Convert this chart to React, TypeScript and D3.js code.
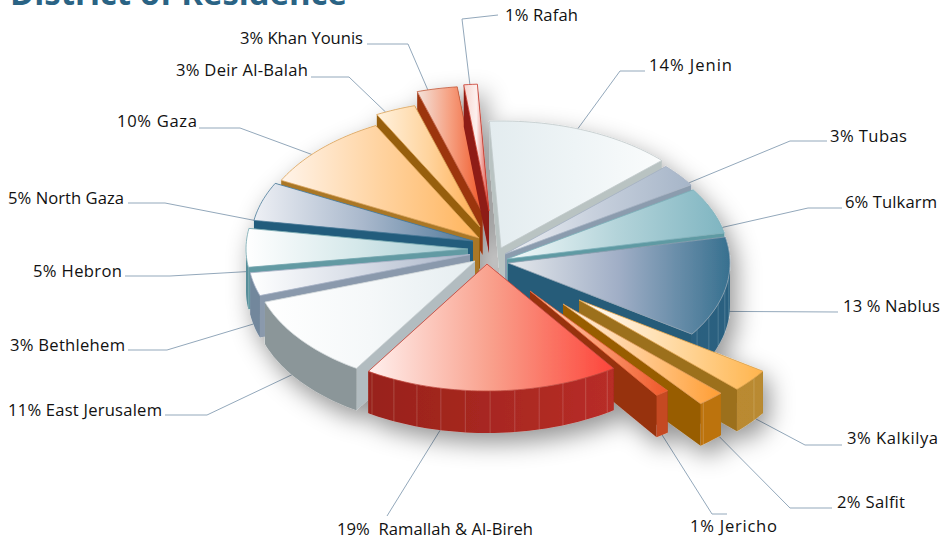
import React from "react";
import * as d3 from "d3";

const districts = ["Jenin","Tubas","Tulkarm","Nablus","Kalkilya","Salfit","Jericho","Ramallah & Al-Bireh","East Jerusalem","Bethlehem","Hebron","North Gaza","Gaza","Deir Al-Balah","Khan Younis","Rafah"];
const shares = [14,3,6,13,3,2,1,19,11,3,5,5,10,3,3,1];
const labelTexts = ["14% Jenin","3% Tubas","6% Tulkarm","13 % Nablus","3% Kalkilya","2% Salfit","1% Jericho","19%  Ramallah & Al-Bireh","11% East Jerusalem","3% Bethlehem","5% Hebron","5% North Gaza","10% Gaza","3% Deir Al-Balah","3% Khan Younis","1% Rafah"];

// explosion of each wedge relative to the pie centre
const explodeX = [16,20,22,23,94,78,45,2,-10,-15,-17,-12,-6,-5,-2.5,4];
const explodeY = [-2,4,9,13,50,54,41,14,11,4.5,-1,-9,-12,-23,-37,-39];

const surfaceStops = [
  ["#e3ecef","#eef4f6","#fafcfc"],["#eceff3","#c6cfdc","#a6b5c8"],["#f3fafa","#b4d4da","#7fb5c1"],["#e6e9ec","#a0aec6","#37708f"],
  ["#ffffff","#ffdba6","#ffb44c"],["#fff4e6","#ffc98e","#ff9d33"],["#ffd9c6","#fb9a70","#ef5628"],["#fff0ee","#f9a08c","#fd453a"],
  ["#ffffff","#f5f8f9","#e5edf0"],["#ffffff","#d6dce6","#a9b4c8"],["#ffffff","#d5e8ea","#a0c8d0"],["#eef0f5","#a9b8cc","#50799a"],
  ["#fff4ea","#ffd3a0","#ffb45c"],["#fff2de","#ffd49e","#ffab4e"],["#f3e3dc","#f6a081","#f0592a"],["#f6d5cf","#fdf0ee","#e0493c"],
];
const sideColors = ["#b9c3c2","#8b9cae","#5f9aa3","#265b79","#9c6f1e","#985d00","#97300d","#a2281d","#b2bcc0","#8a99ac","#629aa3","#235c7c","#aa7726","#975e08","#9c3510","#8e1c14"];
const outerLeft = ["#8d979a","#7a8ea3","#5c8f99","#25587a","#c0872f","#bc7310","#c54a20","#98221a","#8b9699","#72879c","#568d99","#235c7c","#aa7726","#975e08","#9c3510","#8e1c14"];
const outerRight = ["#8d979a","#7a8ea3","#5c8f99","#2a6180","#b98a30","#bc7310","#c54a20","#b82d27","#8b9699","#72879c","#568d99","#235c7c","#aa7726","#975e08","#9c3510","#8e1c14"];
const edgeColors = ["#c0c9ca","#a8b4c4","#7fb0ba","#8fa3b3","#e3a957","#e0a060","#e86a40","#c24a40","#cfd6d8","#a9b4c8","#74a6ae","#4a7a98","#d8a055","#d8a055","#c0583a","#c83a2c"];
const seamed = ["Nablus","Kalkilya","Salfit","Ramallah & Al-Bireh"];

const labelX = [649,830,845,843,847,837,690,337,162,125,122,124,197,308,363,505];
const labelY = [71,142,208,312,444,508,532,535,416,351,277,204,127,76,44,21];
const labelWidth = [83,77,92,97,91,68,87,196,154,115,89,116,80,132,123,73];
const labelAnchor = ["start","start","start","start","start","start","start","start","end","end","end","end","end","end","end","start"];
const leaderStartX = [645,827,842,838,842,832,727,387,165,128,125,128,199,311,367,498];
const leaderStartY = [71,141,208,312,445,508,514,516,415,350,276,203,128,77,44,15];
const leaderElbowX = [620,790,808,838,805,790,712,387,207,167,170,165,240,349,408,462];
const leaderElbowY = [71,141,208,312,445,508,514,516,415,350,276,203,128,77,44,19];
// where the leader meets the wedge: fraction along the arc, and drop down the outer wall
const leaderFraction = [0.47,0.9,0.88,0.59,0.3,0.1,0.5,0.7,0.6,0.6,0.02,0.05,0.4,0.24,0.27,0.45];
const leaderDrop = [0,0,0,15,42,42,42,42,42,42,5,2,0,0,0,0];

const W = 948, H = 541;
const cx = 485, cy = 250, rx = 222, ry = 127, depth = 42;
const deg = Math.PI / 180;

const pieGen = d3.pie<number>().sort(null).startAngle(-3 * deg).endAngle(357 * deg);
const arcs = pieGen(shares);
const sx = d3.scaleLinear().domain([-1, 1]).range([-rx, rx]);
const sy = d3.scaleLinear().domain([-1, 1]).range([ry, -ry]);

const px = (a: number, i: number) => cx + explodeX[i] + sx(Math.sin(a));
const py = (a: number, i: number) => cy + explodeY[i] + sy(Math.cos(a));
const line = d3.line<[number, number]>();

function arcAngles(a0: number, a1: number) {
  const n = Math.max(2, Math.ceil((a1 - a0) / (1.5 * deg)));
  return d3.range(n + 1).map((k) => a0 + ((a1 - a0) * k) / n);
}

const slices = arcs.map((d, i) => {
  const a0 = d.startAngle, a1 = d.endAngle;
  const ax = cx + explodeX[i], ay = cy + explodeY[i];
  const pts: [number, number][] = arcAngles(a0, a1).map((a) => [px(a, i), py(a, i)]);
  const surface = line([[ax, ay], ...pts])! + "Z";
  const wall = (a: number) =>
    line([[ax, ay], [px(a, i), py(a, i)], [px(a, i), py(a, i) + depth], [ax, ay + depth]])! + "Z";
  const f0 = Math.max(a0, 90 * deg), f1 = Math.min(a1, 270 * deg);
  let outer: string | null = null;
  let seams: number[] = [];
  if (f1 > f0) {
    const top: [number, number][] = arcAngles(f0, f1).map((a) => [px(a, i), py(a, i)]);
    const bot: [number, number][] = top.map(([x, y]) => [x, y + depth]);
    outer = line([...top, ...bot.reverse()])! + "Z";
    if (seamed.includes(districts[i])) {
      seams = d3.range(0, 361, 6.4).map((v) => v * deg).filter((a) => a > f0 + 0.01 && a < f1 - 0.01);
    }
  }
  const xs = pts.map((p) => p[0]).concat(ax);
  const mid = (a0 + a1) / 2;
  const onLeft = mid > Math.PI;
  const fr = a0 + (a1 - a0) * leaderFraction[i];
  return {
    i, name: districts[i], surface, outer, seams, onLeft, mid, ax, ay, a0, a1,
    xMin: d3.min(xs)!, xMax: d3.max(xs)!,
    first: wall(onLeft ? a1 : a0), second: wall(onLeft ? a0 : a1),
    tx: px(fr, i), ty: py(fr, i) + leaderDrop[i],
  };
});

const paintOrder = slices.slice().sort((p, q) => d3.descending(Math.cos(p.mid), Math.cos(q.mid)));
// the sliver of Rafah sits in front of its neighbour Khan Younis
const rafahSlot = paintOrder.findIndex((s) => s.name === "Rafah");
const khanSlot = paintOrder.findIndex((s) => s.name === "Khan Younis");
[paintOrder[rafahSlot], paintOrder[khanSlot]] = [paintOrder[khanSlot], paintOrder[rafahSlot]];

export default function App() {
  const font = "'Open Sans', 'Noto Sans', sans-serif";
  return (
    <svg width={W} height={H} viewBox={`0 0 ${W} ${H}`} style={{ position: "absolute", left: 0, top: 0, background: "#fff" }}>
      <defs>
        <filter id="pieShadow" x="-15%" y="-15%" width="130%" height="135%">
          <feDropShadow dx="6" dy="10" stdDeviation="12" floodColor="#000" floodOpacity="0.42" />
        </filter>
        {slices.map((s) => (
          <linearGradient key={s.i} id={`top${s.i}`} gradientUnits="userSpaceOnUse" x1={s.xMin} x2={s.xMax} y1={0} y2={0}>
            {surfaceStops[s.i].map((c, k) => (
              <stop key={k} offset={k / 2} stopColor={c} />
            ))}
          </linearGradient>
        ))}
        {slices.map((s) => (
          <linearGradient key={s.i} id={`wall${s.i}`} gradientUnits="userSpaceOnUse" x1={s.xMin} x2={s.xMax} y1={0} y2={0}>
            <stop offset="0" stopColor={outerLeft[s.i]} />
            <stop offset="1" stopColor={outerRight[s.i]} />
          </linearGradient>
        ))}
      </defs>

      <text x={10} y={5} fontFamily={font} fontWeight={700} fontSize={33} fill="#2a6384" textLength={337} lengthAdjust="spacingAndGlyphs">District of Residence</text>

      {slices.map((s) => (
        <polyline
          key={s.i}
          fill="none"
          stroke="#93a8bb"
          strokeWidth={1}
          points={`${leaderStartX[s.i]},${leaderStartY[s.i]} ${leaderElbowX[s.i]},${leaderElbowY[s.i]} ${s.tx},${s.ty}`}
        />
      ))}

      <g filter="url(#pieShadow)">
        {paintOrder.map((s) => (
          <g key={s.i}>
            <path d={s.first} fill={sideColors[s.i]} />
            <path d={s.second} fill={sideColors[s.i]} />
            {s.outer && <path d={s.outer} fill={`url(#wall${s.i})`} />}
            {s.seams.map((a, k) => (
              <line key={k} x1={px(a, s.i)} x2={px(a, s.i)} y1={py(a, s.i)} y2={py(a, s.i) + depth} stroke="#fff" strokeOpacity={0.22} strokeWidth={0.8} />
            ))}
            <path d={s.surface} fill={`url(#top${s.i})`} stroke={edgeColors[s.i]} strokeWidth={0.8} strokeLinejoin="round" />
          </g>
        ))}
      </g>

      {slices.map((s) => (
        <text
          key={s.i}
          x={labelX[s.i]}
          y={labelY[s.i]}
          textAnchor={labelAnchor[s.i] as any}
          fontFamily={font}
          fontSize={16.6}
          fill="#111"
          textLength={labelWidth[s.i]}
          lengthAdjust="spacing"
          style={{ whiteSpace: "pre" }}
        >
          {labelTexts[s.i]}
        </text>
      ))}
    </svg>
  );
}
